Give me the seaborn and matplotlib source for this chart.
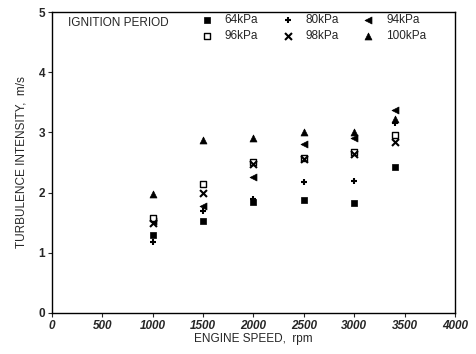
import pandas as pd
import matplotlib
matplotlib.use('Agg')
import matplotlib.pyplot as plt
import seaborn as sns

# velocidades del motor (rpm)
velocidades = [1000, 1500, 2000, 2500, 3000, 3400]

# intensidad de turbulencia (m/s) por presion de admision
p64 = [1.30, 1.52, 1.85, 1.88, 1.83, 2.42]
p80 = [1.18, 1.70, 1.90, 2.17, 2.20, 3.15]
p94 = [1.52, 1.78, 2.26, 2.80, 2.90, 3.37]
p96 = [1.58, 2.15, 2.50, 2.57, 2.67, 2.96]
p98 = [1.50, 2.00, 2.47, 2.55, 2.64, 2.84]
p100 = [1.98, 2.88, 2.90, 3.00, 3.00, 3.22]

etiquetas = ['64kPa', '80kPa', '94kPa', '96kPa', '98kPa', '100kPa']
series = [p64, p80, p94, p96, p98, p100]

# armar tabla larga para seaborn
filas = []
for etq, vals in zip(etiquetas, series):
    for v, t in zip(velocidades, vals):
        filas.append({'rpm': v, 'ti': t, 'presion': etq})
df = pd.DataFrame(filas)

sns.set_style('ticks')
plt.rcParams['font.family'] = ['Liberation Sans', 'DejaVu Sans']

marcadores = {'64kPa': 's', '80kPa': '+', '94kPa': '<', '96kPa': 's',
              '98kPa': 'x', '100kPa': '^'}

fig = plt.figure(figsize=(4.76, 3.54), dpi=100)
ax = fig.add_axes([0.109, 0.116, 0.847, 0.85])

for etq in etiquetas:
    sub = df[df.presion == etq]
    if etq == '96kPa':
        sns.scatterplot(data=sub, x='rpm', y='ti', marker='s', s=25,
                        facecolor='white', edgecolor='black', linewidth=1.0,
                        ax=ax, label=etq)
    elif etq in ('80kPa', '98kPa'):
        sns.scatterplot(data=sub, x='rpm', y='ti', marker=marcadores[etq], s=25,
                        color='black', linewidth=1.5, ax=ax, label=etq)
    else:
        sns.scatterplot(data=sub, x='rpm', y='ti', marker=marcadores[etq], s=25,
                        color='black', edgecolor='black', linewidth=0.5,
                        ax=ax, label=etq)

ax.set_xlim(0, 4000)
ax.set_ylim(0, 5)
ax.set_xticks(range(0, 4001, 500))
ax.set_yticks(range(0, 6))
for lbl in ax.get_xticklabels():
    lbl.set_fontstyle('italic')
    lbl.set_fontweight('bold')
for lbl in ax.get_yticklabels():
    lbl.set_fontweight('bold')
ax.tick_params(axis='both', labelsize=8.5, length=3, width=0.8, pad=2)
for sp in ax.spines.values():
    sp.set_linewidth(1.0)
    sp.set_color('black')

ax.set_xlabel('ENGINE SPEED,  rpm', fontsize=8.5, labelpad=1)
ax.set_ylabel('TURBULENCE INTENSITY,  m/s', fontsize=8.5, labelpad=8)

# leyenda en dos filas (orden por columnas)
h, l = ax.get_legend_handles_labels()
orden = [0, 3, 1, 4, 2, 5]
ax.legend([h[i] for i in orden], [l[i] for i in orden], ncol=3, frameon=False,
          loc='upper right', bbox_to_anchor=(0.955, 1.03), fontsize=8.5,
          columnspacing=2.0, handletextpad=1.0, labelspacing=0.4,
          handlelength=1.0)
ax.text(0.04, 0.965, 'IGNITION PERIOD', transform=ax.transAxes, fontsize=8.5,
        va='center')

fig.savefig('out.png', dpi=100)
